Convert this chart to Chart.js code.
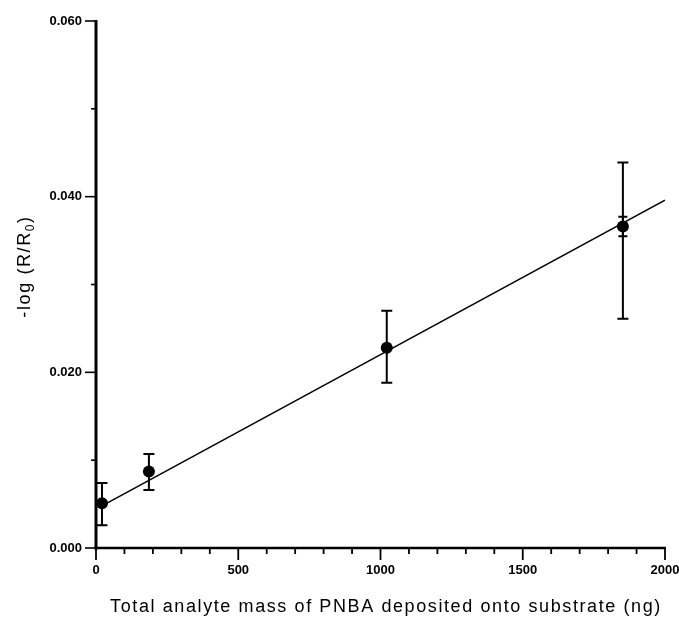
<!DOCTYPE html>
<html>
<head>
<meta charset="utf-8">
<script src="https://cdn.jsdelivr.net/npm/chart.js@4.4.1/dist/chart.umd.min.js"></script>
<style>
  html, body { margin: 0; padding: 0; background: #ffffff; }
  #c { display: block; }
</style>
</head>
<body>
<canvas id="c" width="679" height="617"></canvas>
<script>
// ---- data ----
const massNg    = [21, 186, 1022, 1852];
const signal    = [0.0051, 0.0087, 0.0228, 0.0366];
const errLow    = [0.0026, 0.0066, 0.0188, 0.0261];
const errHigh   = [0.0074, 0.0107, 0.0270, 0.0439];
const innerLow  = [null, null, null, 0.0355];
const innerHigh = [null, null, null, 0.0377];
const fitX      = [21, 2000];
const fitY      = [0.0048, 0.0396];
const xMajorTicks = [0, 500, 1000, 1500, 2000];
const yMajorTicks = ['0.000', '0.020', '0.040', '0.060'];

const xTitle = 'Total analyte mass of PNBA deposited onto substrate (ng)';
const yTitleMain = '-log (R/R';
const yTitleSub = '0';
const yTitleEnd = ')';

const FONT = "'Liberation Sans', Arial, sans-serif";

const pointData = massNg.map((x, i) => ({ x: x, y: signal[i] }));
const fitData = fitX.map((x, i) => ({ x: x, y: fitY[i] }));

// axis lines, major/minor ticks, axis titles
const axesPlugin = {
  id: 'axesPlugin',
  afterDraw(chart) {
    const ctx = chart.ctx;
    const xs = chart.scales.x, ys = chart.scales.y;
    const x0 = xs.getPixelForValue(0), x1 = xs.getPixelForValue(2000);
    const y0 = ys.getPixelForValue(0), y1 = ys.getPixelForValue(0.06);
    ctx.save();
    ctx.strokeStyle = '#000';
    ctx.lineCap = 'butt';
    // y ticks
    ctx.lineWidth = 1.6;
    for (let v = 0; v <= 6; v++) {
      const py = ys.getPixelForValue(v * 0.01);
      const len = (v % 2 === 0) ? 11 : 5;
      ctx.beginPath();
      ctx.moveTo(x0 - len, py);
      ctx.lineTo(x0, py);
      ctx.stroke();
    }
    // x ticks
    ctx.lineWidth = 1.8;
    for (let v = 0; v <= 20; v++) {
      const px = xs.getPixelForValue(v * 100);
      const len = (v % 5 === 0) ? 12 : 6;
      ctx.beginPath();
      ctx.moveTo(px, y0);
      ctx.lineTo(px, y0 + len);
      ctx.stroke();
    }
    // axis lines
    ctx.lineWidth = 3;
    ctx.beginPath();
    ctx.moveTo(x0, y1 - 1);
    ctx.lineTo(x0, y0 + 1.5);
    ctx.stroke();
    ctx.lineWidth = 2.5;
    ctx.beginPath();
    ctx.moveTo(x0 - 1.5, y0);
    ctx.lineTo(x1 + 1, y0);
    ctx.stroke();

    ctx.fillStyle = '#000';
    // x title
    ctx.save();
    ctx.font = '18px ' + FONT;
    ctx.letterSpacing = '1.6px';
    ctx.textAlign = 'center';
    ctx.textBaseline = 'alphabetic';
    ctx.fillText(xTitle, 386, 612);
    ctx.restore();

    // y title with subscript
    ctx.save();
    ctx.letterSpacing = '1.6px';
    ctx.translate(29.5, 266.5);
    ctx.rotate(-Math.PI / 2);
    ctx.font = '18px ' + FONT;
    const wMain = ctx.measureText(yTitleMain).width;
    ctx.font = '12px ' + FONT;
    const wSub = ctx.measureText(yTitleSub).width;
    ctx.font = '18px ' + FONT;
    const wEnd = ctx.measureText(yTitleEnd).width;
    const total = wMain + wSub + wEnd;
    let cx = -total / 2;
    ctx.textBaseline = 'alphabetic';
    ctx.textAlign = 'left';
    ctx.fillText(yTitleMain, cx, 0);
    cx += wMain;
    ctx.font = '12px ' + FONT;
    ctx.fillText(yTitleSub, cx, 4);
    cx += wSub;
    ctx.font = '18px ' + FONT;
    ctx.fillText(yTitleEnd, cx, 0);
    ctx.restore();
    ctx.restore();
  }
};

// error bars
const errorBarPlugin = {
  id: 'errorBars',
  afterDatasetsDraw(chart) {
    const ctx = chart.ctx;
    const xs = chart.scales.x, ys = chart.scales.y;
    ctx.save();
    ctx.strokeStyle = '#000';
    ctx.lineWidth = 2;
    const bar = (px, lo, hi, cap) => {
      const pLo = ys.getPixelForValue(lo), pHi = ys.getPixelForValue(hi);
      ctx.beginPath();
      ctx.moveTo(px, pLo); ctx.lineTo(px, pHi);
      ctx.moveTo(px - cap, pLo); ctx.lineTo(px + cap, pLo);
      ctx.moveTo(px - cap, pHi); ctx.lineTo(px + cap, pHi);
      ctx.stroke();
    };
    massNg.forEach((m, i) => {
      const px = xs.getPixelForValue(m);
      bar(px, errLow[i], errHigh[i], 5.5);
      if (innerLow[i] !== null) bar(px, innerLow[i], innerHigh[i], 4.5);
    });
    ctx.restore();
  }
};

new Chart(document.getElementById('c'), {
  type: 'scatter',
  data: {
    datasets: [
      {
        label: 'fit',
        data: fitData,
        showLine: true,
        borderColor: '#000',
        borderWidth: 1.5,
        pointRadius: 0,
        fill: false,
        order: 2
      },
      {
        label: 'PNBA',
        data: pointData,
        backgroundColor: '#000',
        borderColor: '#000',
        pointRadius: 6,
        pointBorderWidth: 0,
        order: 1
      }
    ]
  },
  options: {
    responsive: false,
    animation: false,
    events: [],
    layout: { padding: { left: 0, top: 21, right: 14, bottom: 0 } },
    plugins: { legend: { display: false }, tooltip: { enabled: false } },
    scales: {
      x: {
        type: 'linear',
        min: 0, max: 2000,
        grid: { display: false, drawTicks: false },
        border: { display: false },
        ticks: {
          stepSize: 100,
          autoSkip: false,
          maxRotation: 0,
          padding: 15,
          color: '#000',
          font: { family: FONT, size: 13, weight: 'bold' },
          callback: (v) => xMajorTicks.includes(Math.round(v)) ? String(Math.round(v)) : ''
        },
        title: { display: false, text: xTitle },
        afterFit: (s) => { s.height = 69; s.paddingRight = 0; s.paddingLeft = 0; }
      },
      y: {
        type: 'linear',
        min: 0, max: 0.06,
        grid: { display: false, drawTicks: false },
        border: { display: false },
        ticks: {
          stepSize: 0.01,
          autoSkip: false,
          padding: 14,
          color: '#000',
          font: { family: FONT, size: 13, weight: 'bold' },
          callback: (v, i) => (i % 2 === 0) ? yMajorTicks[i / 2] : ''
        },
        title: { display: false, text: '-log (R/R0)' },
        afterFit: (s) => { s.width = 96; s.paddingTop = 0; s.paddingBottom = 0; }
      }
    }
  },
  plugins: [axesPlugin, errorBarPlugin]
});
</script>
</body>
</html>
